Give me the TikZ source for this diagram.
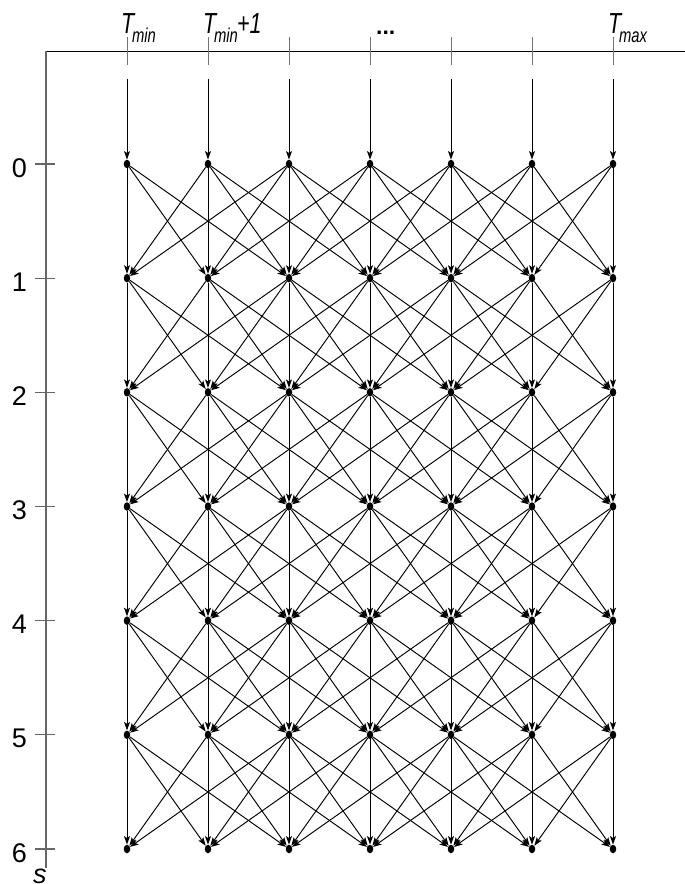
\documentclass[tikz,border=0pt]{standalone}
\usepackage{graphicx}
\usepackage{fontspec}
\setmainfont{Liberation Sans}
\usetikzlibrary{shapes.geometric,arrows.meta}
\begin{document}
\begin{tikzpicture}[x=1pt,y=-1pt,
  dot/.style={ellipse,fill=black,inner sep=0pt,minimum width=6.5pt,minimum height=8.5pt},
  edge/.style={line width=0.95pt,-{Stealth[length=8.5pt,width=6pt,inset=2pt]}},
  axisline/.style={line width=1.2pt,draw=black!60},
  tickline/.style={line width=1pt,draw=black!55},
  rowlab/.style={anchor=base east,inner sep=0pt,font=\fontsize{27}{27}\selectfont},
  toplab/.style={anchor=base west,inner sep=0pt}]
\useasboundingbox (0,0) rectangle (685,884);
% axes
\coordinate (O) at (46,51);
\coordinate (xend) at (685,51);
\coordinate (yend) at (46,868);
\draw[line width=1pt] (O) -- (xend);
\draw[axisline] (O) -- (yend);
% nodes
\foreach \i in {0,...,6}{
  \foreach \j in {0,...,6}{
    \node[dot] (n-\i-\j) at ({127+81*\j},{164+114.17*\i}) {};
  }
  \draw[axisline] (35,{164+114.17*\i}) -- (55,{164+114.17*\i});
  \node[rowlab] (l\i) at (27,{177+114.17*\i}) {\i};
}
% top ticks and incoming arrows
\foreach \j in {0,...,6}{
  \draw[tickline] ({127+81*\j},37) -- ({127+81*\j},65);
  \coordinate (t\j) at ({127+81*\j},79);
  \draw[edge] (t\j) -- (n-0-\j);
}
% edges
\foreach \i in {0,...,5}{
  \pgfmathtruncatemacro\ni{\i+1}
  \foreach \j in {0,...,6}{
    \foreach \d in {-2,...,2}{
      \pgfmathtruncatemacro\k{\j+\d}
      \ifnum\k>-1 \ifnum\k<7
        \draw[edge] (n-\i-\j) -- (n-\ni-\k);
      \fi\fi
    }
  }
}
% labels
\node[toplab] (tmin) at (121,33) {\scalebox{0.74}[1]{\fontsize{29}{29}\selectfont\itshape T\kern-3pt\raisebox{-9pt}{\fontsize{20}{20}\selectfont min}}};
\node[toplab] (tmin1) at (203,33) {\scalebox{0.74}[1]{\fontsize{29}{29}\selectfont\itshape T\kern-3pt\raisebox{-9pt}{\fontsize{20}{20}\selectfont min}\kern-1pt+1}};
\node[toplab] (dots) at (376,34) {\fontsize{23}{23}\selectfont\bfseries ...};
\node[toplab] (tmax) at (608,33) {\scalebox{0.74}[1]{\fontsize{29}{29}\selectfont\itshape T\kern-3pt\raisebox{-9pt}{\fontsize{20}{20}\selectfont max}}};
\node[toplab] (s) at (33,883) {\fontsize{27}{27}\selectfont\itshape s};
\end{tikzpicture}
\end{document}
